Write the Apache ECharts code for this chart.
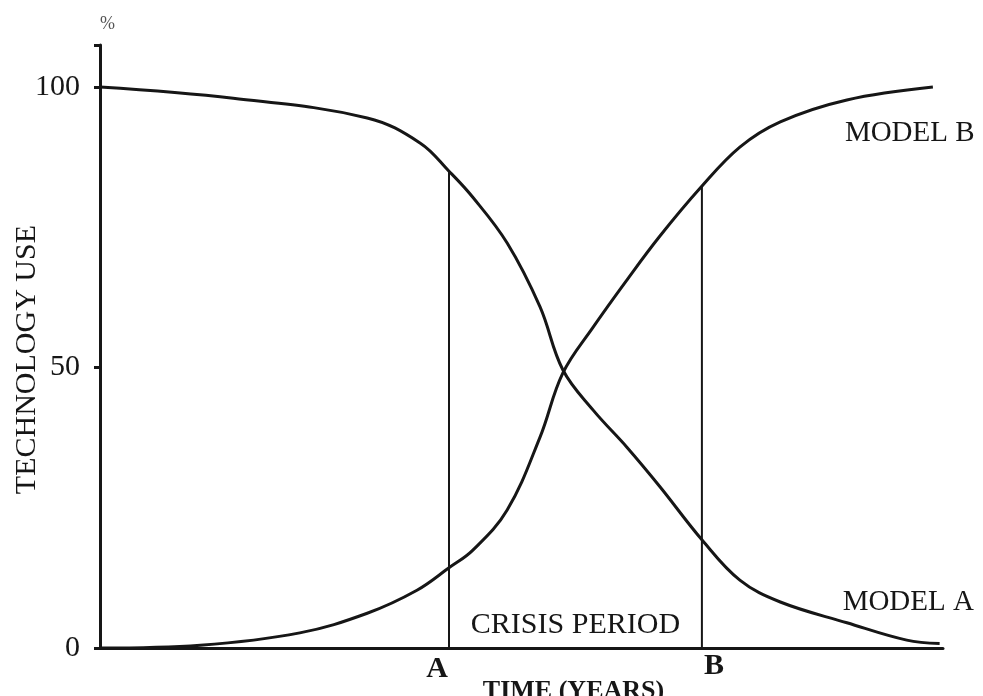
<!DOCTYPE html>
<html>
<head>
<meta charset="utf-8">
<title>Technology use</title>
<script src="https://cdn.jsdelivr.net/npm/echarts@6/dist/echarts.min.js"></script>
<style>
  html, body { margin: 0; padding: 0; background: #fff; }
  #chart { width: 983px; height: 696px; }
</style>
</head>
<body>
<div id="chart"></div>
<script>
// time runs 0..100 along the axis (no scale printed)
var modelA = [[0, 100], [15.8, 98], [31.7, 94.5], [38, 90], [41.4, 85], [44.2, 80.4],
  [48.3, 72.2], [52.2, 60.8], [54.9, 49.6], [58.5, 42.4], [62.5, 35.8], [66.4, 28.8],
  [71.4, 19.3], [75.9, 12.1], [80.7, 8.2], [88.6, 4.5], [95.7, 1.4], [99.6, 0.8]];
var modelB = [[0, 0], [11.9, 0.5], [23.7, 2.7], [31.7, 6.2], [37.6, 10.3], [41.4, 14.3],
  [44.2, 17.4], [48.3, 24.6], [52.2, 37.6], [54.9, 49], [58.5, 57.2], [62.5, 65.6],
  [66.4, 73.4], [71.2, 82], [75.9, 89.3], [80.7, 93.8], [88.6, 97.7], [98.8, 100]];
var crisisStart = 41.4, crisisEnd = 71.4;
var crisisStartTop = 85, crisisEndTop = 82.2;
var yTicks = [0, 50, 100];

var serif = '"Liberation Serif", "DejaVu Serif", serif';
var ink = '#161616';

var chart = echarts.init(document.getElementById('chart'));
chart.setOption({
  backgroundColor: '#fff',
  animation: false,
  grid: { left: 100, right: 40, top: 45, bottom: 48, outerBoundsMode: 'none' },
  xAxis: {
    type: 'value', min: 0, max: 100,
    name: 'TIME (YEARS)', nameLocation: 'middle', nameGap: 30,
    nameTextStyle: { fontFamily: serif, fontSize: 26, fontWeight: 'bold', color: ink, padding: [0, 0, 0, 104] },
    axisLine: { lineStyle: { color: ink, width: 3 } },
    axisTick: { show: false },
    axisLabel: { show: false },
    splitLine: { show: false }
  },
  yAxis: {
    type: 'value', min: 0, max: 107.5, interval: 50,
    name: '%', nameLocation: 'end', nameGap: 12,
    nameTextStyle: { fontFamily: serif, fontSize: 18, color: '#555', align: 'left' },
    axisLine: { show: true, lineStyle: { color: ink, width: 3 } },
    axisTick: { show: true, length: 6, lineStyle: { color: ink, width: 3 } },
    axisLabel: {
      fontFamily: serif, fontSize: 30, color: ink, margin: 20,
      formatter: function (v) { return yTicks.indexOf(v) >= 0 ? String(v) : ''; }
    },
    splitLine: { show: false }
  },
  graphic: [{
    type: 'text', left: 12, top: 225, rotation: Math.PI / 2,
    style: { text: 'TECHNOLOGY USE', font: '30px ' + serif, fill: ink }
  }],
  series: [
    {
      name: 'MODEL A', type: 'line', data: modelA, smooth: 0.38,
      showSymbol: false, lineStyle: { color: ink, width: 3 },
      endLabel: { show: true, formatter: 'MODEL A', fontFamily: serif, fontSize: 29, color: ink, offset: [-105, -41] },
      markArea: {
        silent: true, itemStyle: { color: 'rgba(0,0,0,0)' },
        label: { show: true, position: 'insideBottom', distance: 8, fontFamily: serif, fontSize: 30, color: ink },
        data: [[{ name: 'CRISIS PERIOD', xAxis: crisisStart }, { xAxis: crisisEnd }]]
      }
    },
    {
      name: 'MODEL B', type: 'line', data: modelB, smooth: 0.38,
      showSymbol: false, lineStyle: { color: ink, width: 3 },
      endLabel: { show: true, formatter: 'MODEL B', fontFamily: serif, fontSize: 29, color: ink, offset: [-96, 46] }
    },
    {
      name: 'A', type: 'line', data: [[crisisStart, 0], [crisisStart, crisisStartTop]],
      showSymbol: false, lineStyle: { color: ink, width: 2 },
      markPoint: {
        symbol: 'circle', symbolSize: 2, itemStyle: { color: 'rgba(0,0,0,0)' },
        label: { show: true, position: 'inside', formatter: 'A', fontFamily: serif, fontSize: 30, fontWeight: 'bold', color: ink, offset: [-12, 21] },
        data: [{ coord: [crisisStart, 0] }]
      }
    },
    {
      name: 'B', type: 'line', data: [[crisisEnd, 0], [crisisEnd, crisisEndTop]],
      showSymbol: false, lineStyle: { color: ink, width: 2 },
      markPoint: {
        symbol: 'circle', symbolSize: 2, itemStyle: { color: 'rgba(0,0,0,0)' },
        label: { show: true, position: 'inside', formatter: 'B', fontFamily: serif, fontSize: 30, fontWeight: 'bold', color: ink, offset: [12, 18] },
        data: [{ coord: [crisisEnd, 0] }]
      }
    }
  ]
});
window.addEventListener('resize', chart.resize);
</script>
</body>
</html>
